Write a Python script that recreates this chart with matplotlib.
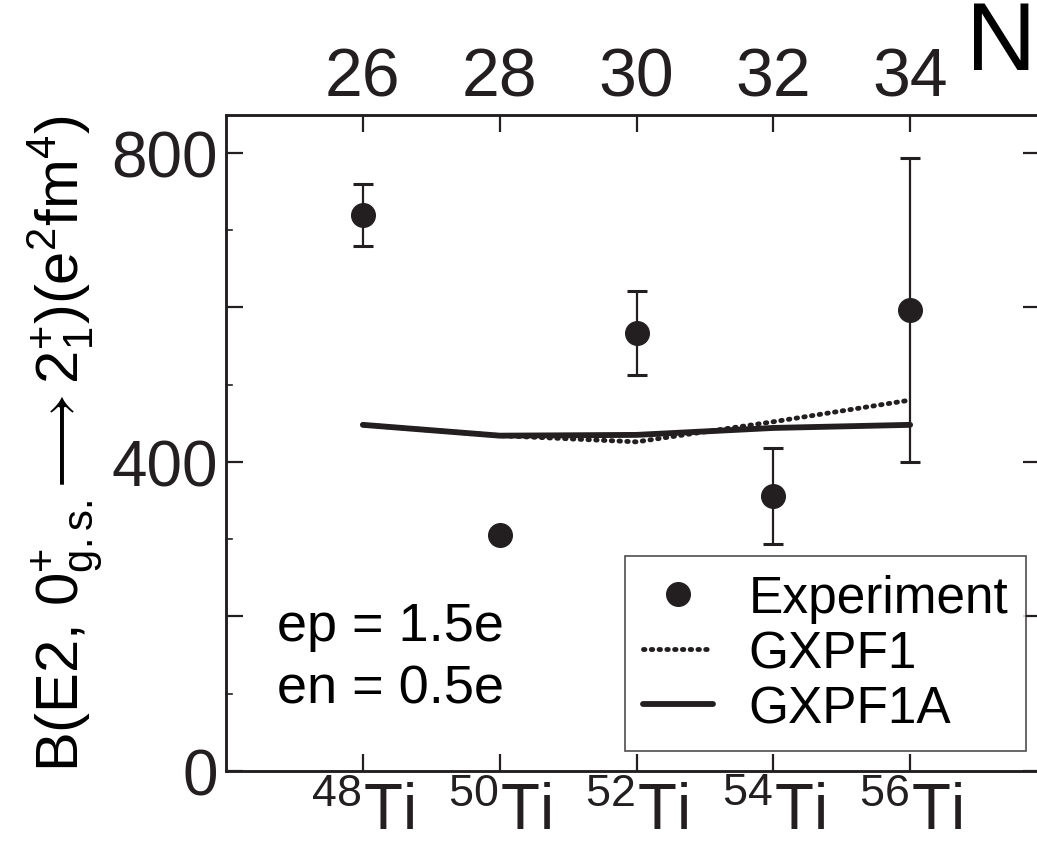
import matplotlib
matplotlib.use("Agg")
import matplotlib.pyplot as plt

plt.rcParams['font.family'] = ['Liberation Sans', 'DejaVu Sans']
plt.rcParams['mathtext.fontset'] = 'custom'
plt.rcParams['mathtext.rm'] = 'Liberation Sans'
plt.rcParams['mathtext.it'] = 'Liberation Sans'
plt.rcParams['mathtext.bf'] = 'Liberation Sans:bold'

# neutron number and isotope labels
neutrons = [26, 28, 30, 32, 34]
isotopes = ['48', '50', '52', '54', '56']

# measured B(E2) values (e^2 fm^4) with errors
exp_vals = [720, 306, 567, 356, 597]
exp_errs = [40, 0, 54, 62, 197]

# shell model calculations
gxpf1 = [448, 434, 426, 452, 480]
gxpf1a = [448, 434, 435, 444, 448]

ink = '#231f20'

fig = plt.figure(figsize=(10.37, 8.45), dpi=100)
ax = fig.add_axes([0.218, 0.0864, 0.785, 0.7763])

ax.plot(neutrons, gxpf1, color=ink, lw=3.5, linestyle=(0, (0.3, 1.3)),
        dash_capstyle='round', label='GXPF1')
ax.plot(neutrons, gxpf1a, color=ink, lw=4.2, solid_capstyle='round',
        label='GXPF1A')
ax.errorbar(neutrons, exp_vals, yerr=exp_errs, fmt='none', ecolor=ink,
            elinewidth=1.6, capsize=7, capthick=2.2)
ax.plot(neutrons, exp_vals, 'o', color=ink, ms=17, label='Experiment')

ax.set_xlim(24, 35.9)
ax.set_ylim(0, 849)

ax.set_xticks(neutrons)
ax.set_xticklabels(['$^{%s}$Ti' % a for a in isotopes], fontsize=46)
ax.set_yticks([0, 200, 400, 600, 800])
ax.set_yticklabels(['0', '', '400', '', '800'], fontsize=46)
ax.tick_params(axis='both', which='major', direction='in', length=12,
               width=1.6, right=True, colors=ink)
ax.tick_params(axis='y', pad=6)
ax.tick_params(axis='x', pad=8)

# minor ticks only on the left side
for yv in range(100, 800, 200):
    ax.plot([24, 24.09], [yv, yv], color=ink, lw=1.2, clip_on=False)

ax2 = ax.twiny()
ax2.set_xlim(ax.get_xlim())
ax2.set_xticks(neutrons)
ax2.set_xticklabels([str(n) for n in neutrons], fontsize=49)
ax2.tick_params(direction='in', length=12, width=1.6, pad=4, colors=ink)

for a in (ax, ax2):
    for s in a.spines.values():
        s.set_linewidth(1.8)
        s.set_color(ink)

ax.set_ylabel(r'B(E2, $0^{+}_{g.s.}\!\longrightarrow 2^{+}_{1}$)(e$^{2}$fm$^{4}$)',
              fontsize=43, labelpad=4)

fig.text(0.965, 0.947, 'N', fontsize=70, ha='center', va='center')

ax.text(0.062, 0.2, 'ep = 1.5e', transform=ax.transAxes, fontsize=39)
ax.text(0.062, 0.104, 'en = 0.5e', transform=ax.transAxes, fontsize=39)

h, l = ax.get_legend_handles_labels()
order = [2, 0, 1]
leg = ax.legend([h[i] for i in order], [l[i] for i in order],
                loc='lower right', bbox_to_anchor=(0.983, 0.03),
                fontsize=37, frameon=True, fancybox=False, handlelength=1.35,
                borderpad=0.35, labelspacing=0.12, handletextpad=0.7,
                borderaxespad=0)
leg.get_frame().set_edgecolor(ink)
leg.get_frame().set_linewidth(1.2)

fig.savefig('out.png', dpi=100)
